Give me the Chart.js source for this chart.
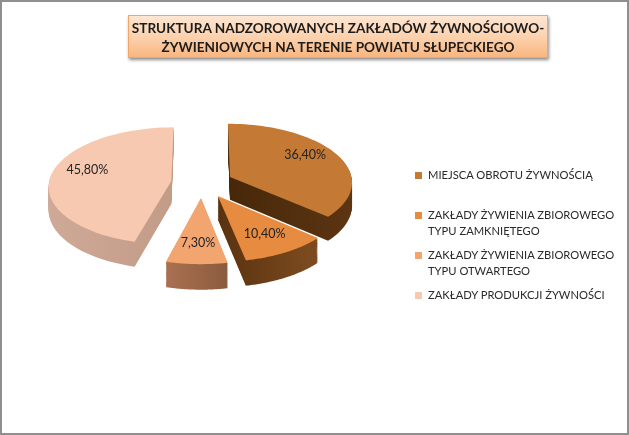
<!DOCTYPE html>
<html>
<head>
<meta charset="utf-8">
<script src="https://cdn.jsdelivr.net/npm/chart.js@4"></script>
<style>
  html, body { margin: 0; padding: 0; background: #fff; }
  #wrap { position: relative; width: 629px; height: 435px; overflow: hidden; font-family: Lato, sans-serif; color: #222; }
  #wrap canvas { position: absolute; left: 0; top: 0; }
  #ramka { position: absolute; left: 0; top: 0; width: 625px; height: 431px; border: 2px solid #8f8f8f; }
  #tytul {
    position: absolute; left: 128px; top: 15px; width: 418px; height: 39px;
    border: 1px solid #f2a566; box-shadow: 1px 2px 3px #8d8d8d;
    background: linear-gradient(#fde6d2, #fcd0ab 55%, #f9b67f);
    font-weight: bold; font-size: 13.6px; line-height: 19px; text-align: center; padding-top: 2px;
    display: flex; flex-direction: column; justify-content: center; color: #1c1c1c;
  }
  .poz { position: absolute; left: 415px; font-size: 11.2px; line-height: 16px; white-space: nowrap; color: #2a2a2a; }
  .poz i { position: absolute; left: 0; top: 5px; width: 7px; height: 7px; }
  .poz span { display: block; margin-left: 13px; }
</style>
</head>
<body>
<div id="wrap">
  <canvas id="wykres" width="629" height="435"></canvas>
  <div id="ramka"></div>
  <div id="tytul"></div>
  <div id="legenda"></div>
</div>
<script>
const tytul = ['STRUKTURA NADZOROWANYCH ZAKŁADÓW ŻYWNOŚCIOWO-', 'ŻYWIENIOWYCH NA TERENIE POWIATU SŁUPECKIEGO'];
const kategorie = [
    ['MIEJSCA OBROTU ŻYWNOŚCIĄ'],
    ['ZAKŁADY ŻYWIENIA ZBIOROWEGO', 'TYPU ZAMKNIĘTEGO'],
    ['ZAKŁADY ŻYWIENIA ZBIOROWEGO', 'TYPU OTWARTEGO'],
    ['ZAKŁADY PRODUKCJI ŻYWNOŚCI']
];
const wartosci = [36.4, 10.4, 7.3, 45.8];
const kolory = ['#c47a35', '#e68b3f', '#f3a570', '#f7c9b0'];
const bokiLewe = ['#472809', '#58320f', '#a87050', '#cfa997'];
const bokiPrawe = ['#5c3512', '#7c4a1e', '#8c5c3e', '#c39c88'];

// rzut "3D": splaszczenie, perspektywa i grubosc kola
const SPLASZCZENIE = 0.476;
const PERSPEKTYWA = 0.00065;
const GRUBOSC = 23;

function rzut(el, mx, my, z) {
    const f = 1 / (1 - my * PERSPEKTYWA);
    return { x: el.x + mx * f, y: el.y + (my * SPLASZCZENIE + z) * f };
}

function obrysKawalka(ctx, el, z) {
    const srodek = (el.startAngle + el.endAngle) / 2;
    const dx = Math.cos(srodek) * el.options.offset;
    const dy = Math.sin(srodek) * el.options.offset;
    const p0 = rzut(el, dx, dy, z);
    ctx.beginPath();
    ctx.moveTo(p0.x, p0.y);
    const kroki = 60;
    for (let i = 0; i <= kroki; i++) {
        const a = el.startAngle + (el.endAngle - el.startAngle) * i / kroki;
        const p = rzut(el, dx + Math.cos(a) * el.outerRadius, dy + Math.sin(a) * el.outerRadius, z);
        ctx.lineTo(p.x, p.y);
    }
    ctx.closePath();
}

const kolo3d = {
    id: 'kolo3d',
    beforeDatasetDraw(chart) {
        const ctx = chart.ctx;
        const arcs = chart.getDatasetMeta(0).data;
        arcs.forEach((el, i) => {
            const srodek = (el.startAngle + el.endAngle) / 2;
            const cx = rzut(el, Math.cos(srodek) * el.options.offset, 0, 0).x;
            const r = el.outerRadius;
            const xMin = cx + Math.min(0, ...[0, 0.25, 0.5, 0.75, 1].map(t => Math.cos(el.startAngle + (el.endAngle - el.startAngle) * t) * r));
            const xMax = cx + Math.max(0, ...[0, 0.25, 0.5, 0.75, 1].map(t => Math.cos(el.startAngle + (el.endAngle - el.startAngle) * t) * r));
            const gr = ctx.createLinearGradient(xMin, 0, xMax, 0);
            gr.addColorStop(0, bokiLewe[i]);
            gr.addColorStop(1, bokiPrawe[i]);
            ctx.fillStyle = gr;
            for (let z = GRUBOSC; z > 0; z--) {
                obrysKawalka(ctx, el, z);
                ctx.fill();
            }
            obrysKawalka(ctx, el, 0);
            ctx.fillStyle = kolory[i];
            ctx.fill();
        });
        return false;
    },
    afterDatasetsDraw(chart) {
        const ctx = chart.ctx;
        const arcs = chart.getDatasetMeta(0).data;
        ctx.font = '12.5px Lato';
        ctx.fillStyle = '#222';
        ctx.textAlign = 'center';
        ctx.textBaseline = 'middle';
        arcs.forEach((el, i) => {
            const srodek = (el.startAngle + el.endAngle) / 2;
            const off = el.options.offset + el.outerRadius * 0.7;
            const p = rzut(el, Math.cos(srodek) * off, Math.sin(srodek) * off, 0);
            // etykiety tylnych kawalkow leza nieco wyzej
            if (Math.sin(srodek) < 0) p.y -= 6;
            ctx.fillText(wartosci[i].toFixed(2).replace('.', ',') + '%', p.x, p.y);
        });
    }
};

new Chart(document.getElementById('wykres'), {
    type: 'pie',
    data: {
        labels: kategorie.map(k => k.join(' ')),
        datasets: [{
            data: wartosci,
            backgroundColor: kolory,
            borderWidth: 0,
            offset: 31
        }]
    },
    options: {
        responsive: false,
        animation: false,
        layout: { padding: { left: 64, right: 289, top: 45, bottom: 114 } },
        plugins: {
            legend: { display: false },
            tooltip: { enabled: false }
        }
    },
    plugins: [kolo3d]
});

// tytul i legenda
document.getElementById('tytul').innerHTML = tytul.map(t => '<div>' + t + '</div>').join('');
const legenda = document.getElementById('legenda');
kategorie.forEach((linie, i) => {
    const el = document.createElement('div');
    el.className = 'poz';
    el.style.top = (167 + i * 40) + 'px';
    el.innerHTML = '<i style="background:' + kolory[i] + '"></i><span>' + linie.join('<br>') + '</span>';
    legenda.appendChild(el);
});
</script>
</body>
</html>
